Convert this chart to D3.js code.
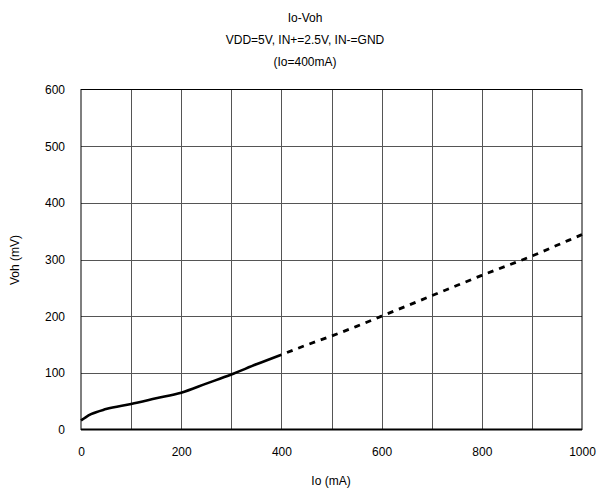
<!DOCTYPE html>
<html>
<head>
<meta charset="utf-8">
<script src="https://cdn.jsdelivr.net/npm/d3@7"></script>
<style>
  body { margin: 0; background: #fff; }
  svg { display: block; font-family: "Liberation Sans", Arial, sans-serif; }
</style>
</head>
<body>
<svg id="chart" width="602" height="495"></svg>
<script>
// Io-Voh curve, measured part solid, extrapolated part dashed
const titleLines = ['Io-Voh', 'VDD=5V, IN+=2.5V, IN-=GND', '(Io=400mA)'];
const xTicks = [0, 200, 400, 600, 800, 1000];
const yTicks = [0, 100, 200, 300, 400, 500, 600];

const solidIo  = [0, 10, 20, 50, 100, 150, 200, 250, 300, 350, 400];
const solidVoh = [16, 22, 27, 36, 45, 55, 65, 81, 97, 115, 132];
const dashIo  = [400, 450, 500, 550, 600, 650, 700, 750, 800, 850, 900, 950, 1000];
const dashVoh = [132, 149, 165, 182, 200, 218, 236, 254, 272, 289, 306, 325, 344];

const svg = d3.select('#chart');
const m = {left: 81, right: 582, top: 89.5, bottom: 429.5};

const x = d3.scaleLinear().domain([0, 1000]).range([m.left, m.right]);
const y = d3.scaleLinear().domain([0, 600]).range([m.bottom, m.top]);

// title
svg.append('g').selectAll('text').data(titleLines).join('text')
  .attr('x', 305).attr('y', (d, i) => 22 + i * 22)
  .attr('text-anchor', 'middle').style('font-size', '12px').text(d => d);

// grid
const gx = d3.range(100, 1000, 100);
const gy = d3.range(100, 600, 100);
const grid = svg.append('g').attr('stroke', '#555').attr('stroke-width', 1);
grid.selectAll('line.v').data(gx).join('line').attr('class', 'v')
  .attr('x1', d => Math.round(x(d)) + 0.5).attr('x2', d => Math.round(x(d)) + 0.5)
  .attr('y1', m.top).attr('y2', m.bottom);
grid.selectAll('line.h').data(gy).join('line').attr('class', 'h')
  .attr('y1', d => Math.round(y(d)) + 0.5).attr('y2', d => Math.round(y(d)) + 0.5)
  .attr('x1', m.left).attr('x2', m.right);

// frame
svg.append('rect').attr('x', m.left).attr('y', m.top)
  .attr('width', m.right - m.left).attr('height', m.bottom - m.top)
  .attr('fill', 'none').attr('stroke', '#000').attr('stroke-width', 1);
svg.append('line').attr('x1', m.left).attr('x2', m.right)
  .attr('y1', m.bottom).attr('y2', m.bottom).attr('stroke', '#000').attr('stroke-width', 2);

// axes (labels only)
const xAxis = svg.append('g').attr('transform', `translate(0,${m.bottom})`)
  .call(d3.axisBottom(x).tickValues(xTicks).tickFormat(d3.format('d')).tickSize(0).tickPadding(18));
const yAxis = svg.append('g').attr('transform', `translate(${m.left},0)`)
  .call(d3.axisLeft(y).tickValues(yTicks).tickFormat(d3.format('d')).tickSize(0).tickPadding(16));
[xAxis, yAxis].forEach(a => {
  a.select('.domain').remove();
  a.selectAll('text').style('font-size', '12px').style('font-family', '"Liberation Sans", Arial, sans-serif').attr('fill', '#000');
});

svg.append('text').attr('x', 331).attr('y', 485).attr('text-anchor', 'middle')
  .style('font-size', '12px').text('Io (mA)');
svg.append('text').attr('transform', 'translate(19,260) rotate(-90)').attr('text-anchor', 'middle')
  .style('font-size', '12px').text('Voh (mV)');

// curves
const line = d3.line().x(d => x(d[0])).y(d => y(d[1])).curve(d3.curveMonotoneX);
svg.append('path').datum(d3.zip(solidIo, solidVoh))
  .attr('d', line).attr('fill', 'none').attr('stroke', '#000').attr('stroke-width', 2.6);
svg.append('path').datum(d3.zip(dashIo, dashVoh))
  .attr('d', line).attr('fill', 'none').attr('stroke', '#000').attr('stroke-width', 2.8)
  .attr('stroke-dasharray', '6,6').attr('stroke-dashoffset', -6);
</script>
</body>
</html>
